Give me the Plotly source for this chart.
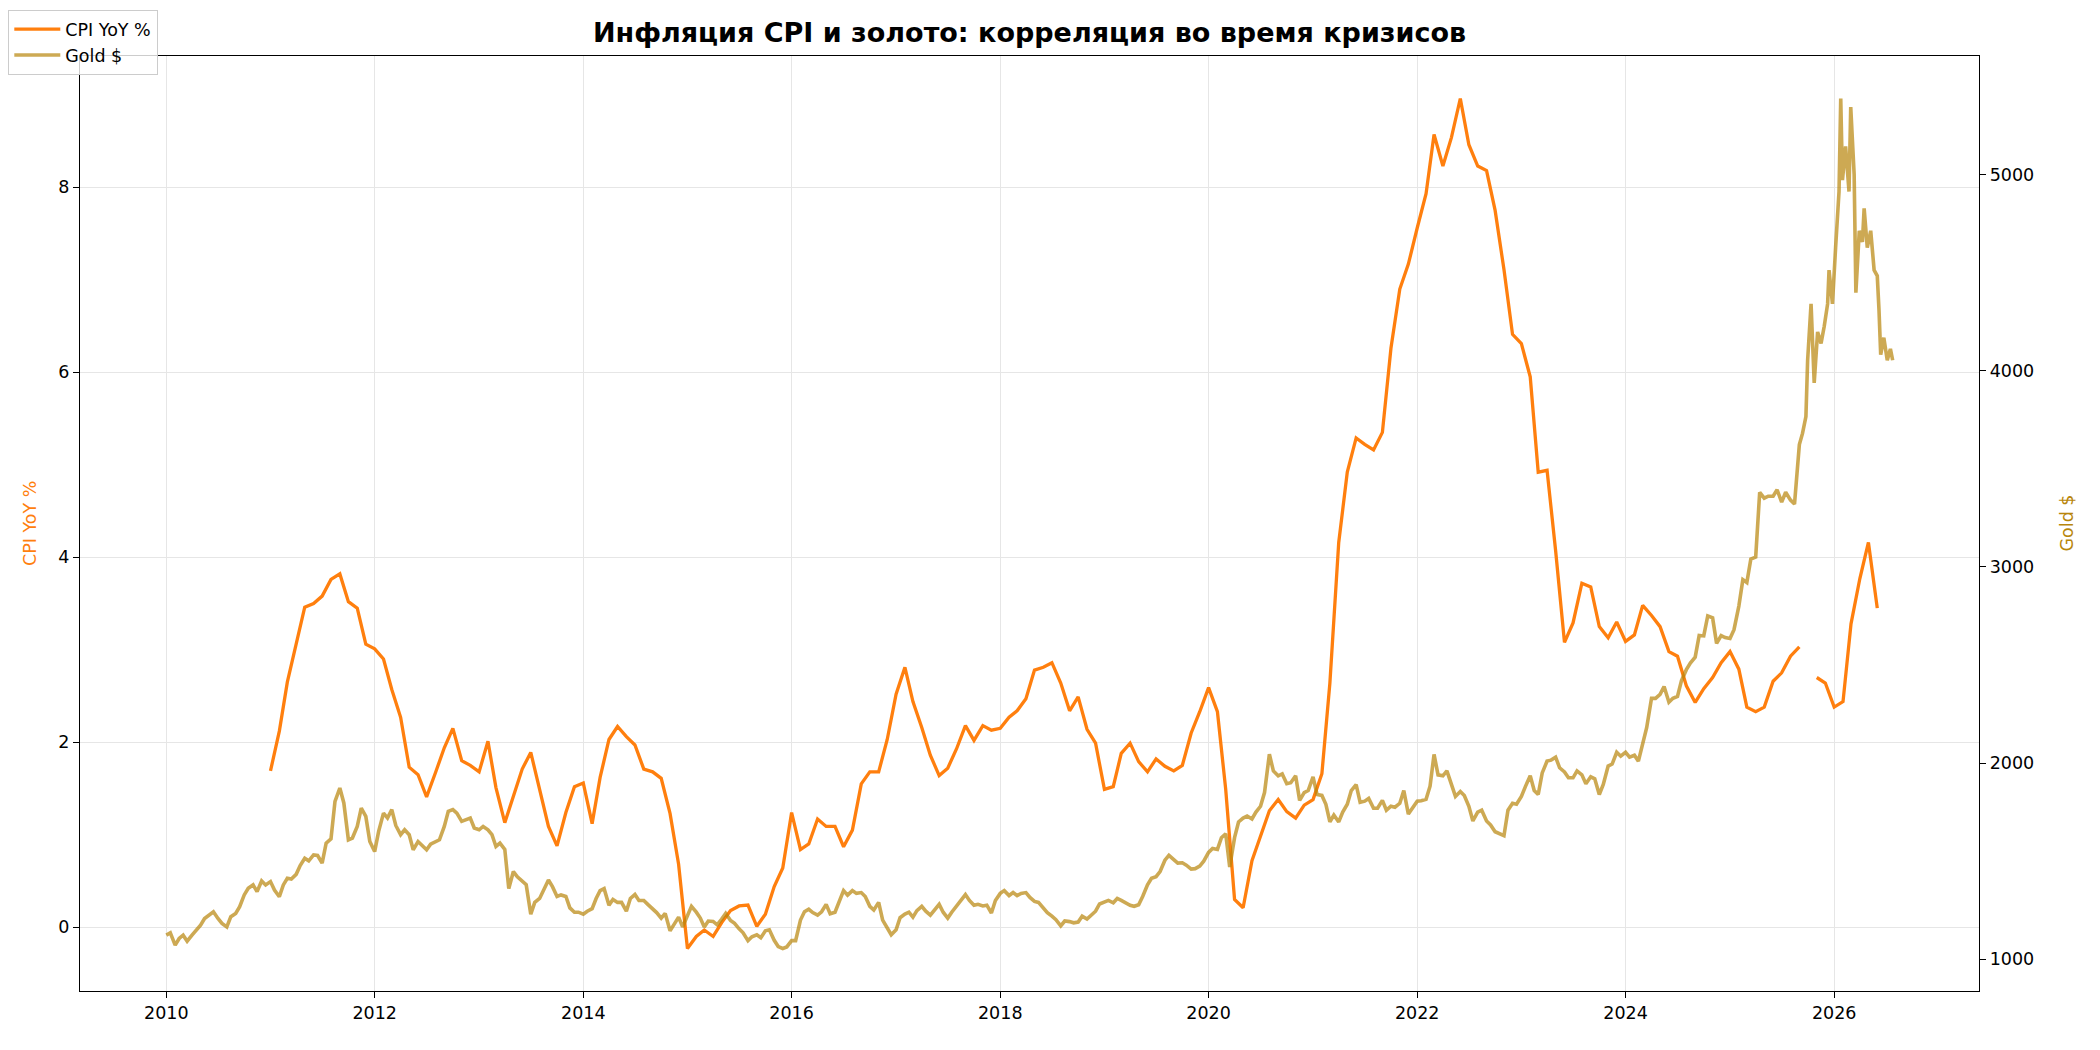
import pandas as pd
import plotly.graph_objects as go

# ---------------- data ----------------
cpi_start = "2011-01-01"
cpi_yoy = [
    1.69, 2.12, 2.65, 3.08, 3.46, 3.50, 3.58, 3.76, 3.82, 3.52, 3.45, 3.06,   # 2011
    3.01, 2.90, 2.57, 2.27, 1.73, 1.65, 1.41, 1.67, 1.94, 2.15, 1.80, 1.75,   # 2012
    1.68, 2.01, 1.51, 1.13, 1.42, 1.71, 1.89, 1.49, 1.09, 0.88, 1.24, 1.52,   # 2013
    1.56, 1.12, 1.62, 2.03, 2.17, 2.06, 1.97, 1.71, 1.68, 1.61, 1.23, 0.68,   # 2014
    -0.23, -0.10, -0.03, -0.10, 0.05, 0.18, 0.23, 0.24, 0.01, 0.14, 0.44, 0.64,  # 2015
    1.24, 0.84, 0.90, 1.17, 1.09, 1.09, 0.87, 1.05, 1.55, 1.68, 1.68, 2.03,   # 2016
    2.52, 2.81, 2.44, 2.16, 1.86, 1.64, 1.72, 1.93, 2.18, 2.02, 2.18, 2.13,   # 2017
    2.15, 2.27, 2.34, 2.47, 2.78, 2.81, 2.86, 2.64, 2.34, 2.49, 2.14, 1.99,   # 2018
    1.49, 1.52, 1.88, 1.99, 1.79, 1.68, 1.82, 1.74, 1.69, 1.75, 2.10, 2.33,   # 2019
    2.59, 2.33, 1.49, 0.30, 0.21, 0.72, 0.98, 1.26, 1.38, 1.25, 1.18, 1.32,   # 2020
    1.38, 1.66, 2.64, 4.16, 4.92, 5.29, 5.22, 5.16, 5.35, 6.26, 6.90, 7.17,   # 2021
    7.56, 7.93, 8.57, 8.23, 8.54, 8.96, 8.46, 8.23, 8.18, 7.75, 7.11, 6.41,   # 2022
    6.31, 5.95, 4.92, 4.94, 4.07, 3.08, 3.29, 3.72, 3.68, 3.25, 3.13, 3.30,   # 2023
    3.09, 3.16, 3.48, 3.37, 3.25, 2.98, 2.93, 2.61, 2.43, 2.58, 2.70, 2.86,   # 2024
    2.98, 2.79, 2.38, 2.33, 2.38, 2.66, 2.75, 2.93, 3.03, None, 2.70, 2.64,   # 2025
    2.38, 2.44, 3.28, 3.77, 4.16, 3.45,                                       # 2026
]

# gold, semi-monthly (1st and 15th) from 2010-01-01 to 2025-08-15
gold_start = "2010-01-01"
gold_semimonthly = [
    1123, 1135, 1072, 1106, 1123, 1092, 1123, 1148, 1174, 1208, 1225, 1242,
    1208, 1183, 1165, 1217, 1234, 1268, 1328, 1362, 1379, 1345, 1399, 1379,  # 2010
    1396, 1353, 1319, 1379, 1413, 1409, 1433, 1478, 1515, 1502, 1532, 1529,
    1490, 1592, 1614, 1805, 1873, 1797, 1609, 1618, 1677, 1771, 1728, 1600,  # 2011
    1549, 1652, 1745, 1720, 1763, 1682, 1635, 1660, 1635, 1558, 1600, 1583,
    1558, 1587, 1600, 1609, 1677, 1754, 1763, 1745, 1703, 1711, 1720, 1669,  # 2012
    1660, 1677, 1660, 1635, 1575, 1592, 1560, 1360, 1447, 1420, 1395, 1380,
    1230, 1290, 1310, 1350, 1404, 1370, 1320, 1328, 1320, 1262, 1240, 1240,  # 2013
    1230, 1245, 1258, 1310, 1350, 1360, 1276, 1305, 1290, 1290, 1245, 1310,
    1330, 1300, 1300, 1280, 1260, 1238, 1210, 1234, 1145, 1180, 1215, 1165,  # 2014
    1225, 1270, 1240, 1210, 1165, 1195, 1193, 1176, 1205, 1234, 1198, 1183,
    1155, 1135, 1095, 1115, 1125, 1110, 1145, 1150, 1097, 1065, 1055, 1063,  # 2015
    1095, 1095, 1200, 1242, 1255, 1238, 1225, 1242, 1280, 1232, 1240, 1295,
    1350, 1327, 1350, 1336, 1340, 1320, 1270, 1251, 1290, 1200, 1155, 1125,  # 2016
    1150, 1212, 1230, 1240, 1215, 1248, 1270, 1245, 1225, 1250, 1280, 1240,
    1210, 1240, 1270, 1300, 1330, 1300, 1275, 1280, 1272, 1276, 1236, 1300,  # 2017
    1336, 1350, 1325, 1340, 1325, 1336, 1340, 1315, 1295, 1290, 1262, 1238,
    1220, 1202, 1170, 1195, 1192, 1186, 1190, 1220, 1205, 1225, 1245, 1282,  # 2018
    1290, 1300, 1288, 1310, 1300, 1287, 1275, 1270, 1278, 1320, 1380, 1413,
    1421, 1447, 1505, 1530, 1510, 1490, 1492, 1480, 1460, 1462, 1475, 1500,  # 2019
    1545, 1565, 1560, 1620, 1640, 1470, 1620, 1700, 1720, 1730, 1715, 1750,
    1780, 1850, 2045, 1960, 1935, 1945, 1895, 1900, 1935, 1810, 1850, 1860,  # 2020
    1930, 1840, 1835, 1790, 1700, 1735, 1700, 1750, 1790, 1860, 1890, 1800,
    1806, 1820, 1770, 1770, 1810, 1760, 1780, 1775, 1795, 1860, 1740, 1768,  # 2021
    1806, 1808, 1815, 1882, 2044, 1940, 1935, 1960, 1890, 1830, 1855, 1835,
    1780, 1705, 1750, 1760, 1705, 1685, 1650, 1640, 1630, 1760, 1795, 1790,  # 2022
    1830, 1880, 1935, 1860, 1840, 1950, 2010, 2015, 2030, 1976, 1955, 1925,
    1925, 1960, 1940, 1895, 1930, 1920, 1840, 1891, 1985, 1995, 2055, 2035,  # 2023
    2055, 2030, 2040, 2010, 2100, 2180, 2330, 2330, 2350, 2390, 2310, 2330,
    2340, 2420, 2476, 2510, 2540, 2650, 2648, 2750, 2740, 2610, 2650, 2640,  # 2024
    2635, 2680, 2800, 2935, 2920, 3040, 3050, 3380, 3350, 3360, 3360, 3393,
    3330, 3380, 3340, 3320,                                                  # 2025 Jan..Aug
]

# gold, denser readings for the volatile end of the series
gold_late_dates = [
    "2025-09-01", "2025-09-12", "2025-09-24", "2025-09-30", "2025-10-12", "2025-10-23",
    "2025-11-04", "2025-11-16", "2025-11-27", "2025-12-09", "2025-12-14", "2025-12-26",
    "2026-01-06", "2026-01-18", "2026-01-24", "2026-01-30", "2026-02-10", "2026-02-22",
    "2026-02-28", "2026-03-06", "2026-03-12", "2026-03-18", "2026-03-30", "2026-04-10",
    "2026-04-16", "2026-04-27", "2026-05-09", "2026-05-21", "2026-06-01", "2026-06-07",
    "2026-06-13", "2026-06-24", "2026-07-06", "2026-07-17", "2026-07-25",
]
gold_late_values = [
    3623, 3680, 3766, 4053, 4340, 3938,
    4197, 4139, 4225, 4340, 4512, 4340,
    4627, 4913, 5387, 4971, 5143, 4913,
    5343, 5114, 4999, 4397, 4713, 4656,
    4827, 4627, 4713, 4512, 4483, 4311,
    4082, 4168, 4053, 4111, 4053,
]

title_text = "Инфляция CPI и золото: корреляция во время кризисов"
cpi_name = "CPI YoY %"
gold_name = "Gold $"
year_ticks = [2010, 2012, 2014, 2016, 2018, 2020, 2022, 2024, 2026]
cpi_ticks = [0, 2, 4, 6, 8]
gold_ticks = [1000, 2000, 3000, 4000, 5000]

# ---------------- build ----------------
cpi_dates = pd.date_range(cpi_start, periods=len(cpi_yoy), freq="MS")
gold_dates = list(pd.date_range(gold_start, periods=len(gold_semimonthly), freq="SMS")) + \
    list(pd.to_datetime(gold_late_dates))
gold_values = gold_semimonthly + gold_late_values

ORANGE = "#ff7f0e"
GOLD = "#b8860b"
FONT = "DejaVu Sans"
FS = 17.5

W, H = 2100, 1050
ML, MR, MT, MB = 80, 121, 56, 59
PW = W - ML - MR
PH = H - MT - MB

def padded(lo, hi, frac=0.05):
    span = hi - lo
    return lo - frac * span, hi + frac * span

all_dates = list(cpi_dates) + gold_dates
t0, t1 = min(all_dates), max(all_dates)
span = t1 - t0
xr = [t0 - 0.05 * span, t1 + 0.05 * span]
cpi_valid = [v for v in cpi_yoy if v is not None]
yr1 = padded(min(cpi_valid), max(cpi_valid))
yr2 = padded(min(gold_values), max(gold_values))

fig = go.Figure()
fig.add_trace(go.Scatter(
    x=cpi_dates, y=cpi_yoy, name=cpi_name, mode="lines",
    line=dict(color=ORANGE, width=3.3), connectgaps=False, yaxis="y",
))
fig.add_trace(go.Scatter(
    x=gold_dates, y=gold_values, name=gold_name, mode="lines",
    line=dict(color=GOLD, width=3.6), opacity=0.7, yaxis="y2",
))

axis_common = dict(
    showline=True, linecolor="black", linewidth=1.4,
    ticks="outside", ticklen=6, tickwidth=1.4, tickcolor="black",
    tickfont=dict(family=FONT, size=FS, color="black"),
    zeroline=False,
)

fig.update_layout(
    width=W, height=H,
    margin=dict(l=ML, r=MR, t=MT, b=MB, autoexpand=False),
    paper_bgcolor="white", plot_bgcolor="white",
    font=dict(family=FONT, size=FS, color="black"),
    title=dict(
        text=title_text, x=(ML + PW / 2) / W, xanchor="center",
        y=1 - 33 / H, yanchor="middle", yref="container",
        font=dict(family=FONT, size=27, color="black", weight="bold"),
    ),
    xaxis=dict(
        **axis_common, mirror=True, type="date", range=xr,
        tickvals=[pd.Timestamp(f"{y}-01-01") for y in year_ticks],
        ticktext=[str(y) for y in year_ticks],
        showgrid=True, gridcolor="#e6e6e6", gridwidth=1.3,
    ),
    yaxis=dict(
        **axis_common, mirror=True, range=list(yr1),
        tickvals=cpi_ticks, ticktext=[str(v) for v in cpi_ticks],
        showgrid=True, gridcolor="#e6e6e6", gridwidth=1.3,
    ),
    yaxis2=dict(
        **axis_common, overlaying="y", side="right", range=list(yr2),
        tickvals=gold_ticks, ticktext=[str(v) for v in gold_ticks],
        showgrid=False,
    ),
    legend=dict(
        xref="container", yref="container", x=8 / W, y=1 - 10 / H,
        xanchor="left", yanchor="top",
        bgcolor="rgba(255,255,255,0.8)", bordercolor="#cccccc", borderwidth=1.3,
        font=dict(family=FONT, size=FS, color="black"),
        traceorder="normal", itemwidth=46,
    ),
    showlegend=True,
    annotations=[
        dict(text=cpi_name, xref="paper", yref="paper",
             x=(29.5 - ML) / PW, y=0.5, xanchor="center", yanchor="middle",
             textangle=-90, showarrow=False,
             font=dict(family=FONT, size=FS, color=ORANGE)),
        dict(text=gold_name, xref="paper", yref="paper",
             x=(2066 - ML) / PW, y=0.5, xanchor="center", yanchor="middle",
             textangle=-90, showarrow=False,
             font=dict(family=FONT, size=FS, color=GOLD)),
    ],
)

fig.write_html("out.html", config={"displayModeBar": False},
               post_script="document.body.style.margin='0';")
